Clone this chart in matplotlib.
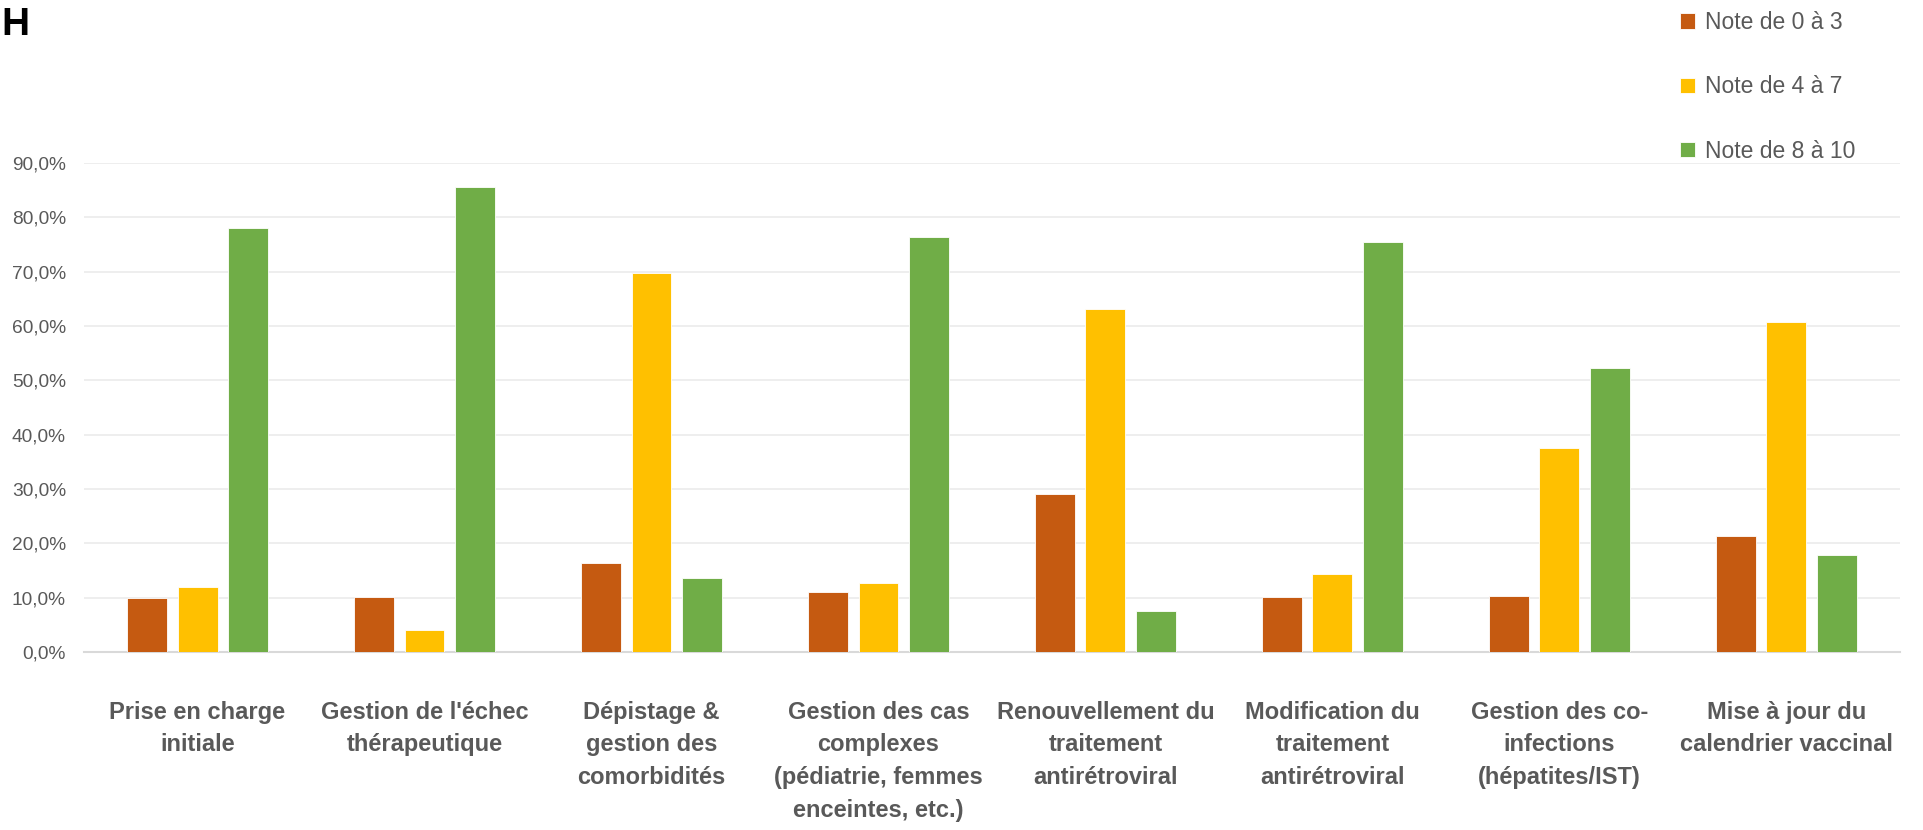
import matplotlib.pyplot as plt
import numpy as np
from matplotlib import font_manager

# Satisfaction notes per skill area (% of respondents)
categories = [
    "Prise en charge\ninitiale",
    "Gestion de l'échec\nthérapeutique",
    "Dépistage &\ngestion des\ncomorbidités",
    "Gestion des cas\ncomplexes\n(pédiatrie, femmes\nenceintes, etc.)",
    "Renouvellement du\ntraitement\nantirétroviral",
    "Modification du\ntraitement\nantirétroviral",
    "Gestion des co-\ninfections\n(hépatites/IST)",
    "Mise à jour du\ncalendrier vaccinal",
]
note_0_3 = [10.0, 10.1, 16.4, 11.0, 29.1, 10.1, 10.3, 21.4]
note_4_7 = [11.9, 4.1, 69.8, 12.7, 63.2, 14.3, 37.6, 60.7]
note_8_10 = [78.0, 85.6, 13.7, 76.3, 7.6, 75.4, 52.2, 17.9]
series_labels = ["Note de 0 à 3", "Note de 4 à 7", "Note de 8 à 10"]
colors = ["#C55A11", "#FFC000", "#70AD47"]
yticks = np.arange(0, 91, 10)

available = {f.name for f in font_manager.fontManager.ttflist}
label_font = "Liberation Sans Narrow" if "Liberation Sans Narrow" in available else "Liberation Sans"

plt.rcParams["font.family"] = ["Liberation Sans", "DejaVu Sans"]
grey = "#595959"

fig = plt.figure(figsize=(19.23, 8.30), dpi=100)
ax = fig.add_axes([0.0437, 0.2145, 0.9443, 0.5891])

x = np.arange(len(categories))
width = 0.176
step = 0.222
for i, (vals, lab, col) in enumerate(zip([note_0_3, note_4_7, note_8_10], series_labels, colors)):
    ax.bar(x + (i - 1) * step, vals, width, color=col, label=lab,
           edgecolor="white", linewidth=0.6, zorder=3)

ax.set_xlim(-0.5, len(categories) - 0.5)
ax.set_ylim(0, 90)
ax.set_yticks(yticks)
ax.set_yticklabels([f"{v:.1f}%".replace(".", ",") for v in yticks], fontsize=13.8, color=grey)
ax.yaxis.grid(True, color="#EDEDED", linewidth=1.3, zorder=0)
ax.set_axisbelow(True)

ax.set_xticks(x)
ax.set_xticklabels(categories, fontsize=17, fontweight="bold", color=grey,
                   family=[label_font, "DejaVu Sans"], linespacing=1.55, va="top")
ax.tick_params(axis="x", length=0, pad=35)
ax.tick_params(axis="y", length=0, pad=13)

for side in ["top", "right", "left"]:
    ax.spines[side].set_visible(False)
ax.spines["bottom"].set_color("#D9D9D9")
ax.spines["bottom"].set_linewidth(1.5)

fig.legend(loc="upper left", bbox_to_anchor=(1671 / 1923, 1 - 2 / 830), frameon=False,
           fontsize=16.5, handlelength=0.65, handleheight=0.65, handletextpad=0.45,
           labelspacing=1.8, labelcolor=grey, borderaxespad=0)

fig.text(1 / 1923, 1 - 25 / 830, "H", fontsize=28, fontweight="bold", color="black",
         ha="left", va="center")

fig.savefig("out.png", dpi=100)
